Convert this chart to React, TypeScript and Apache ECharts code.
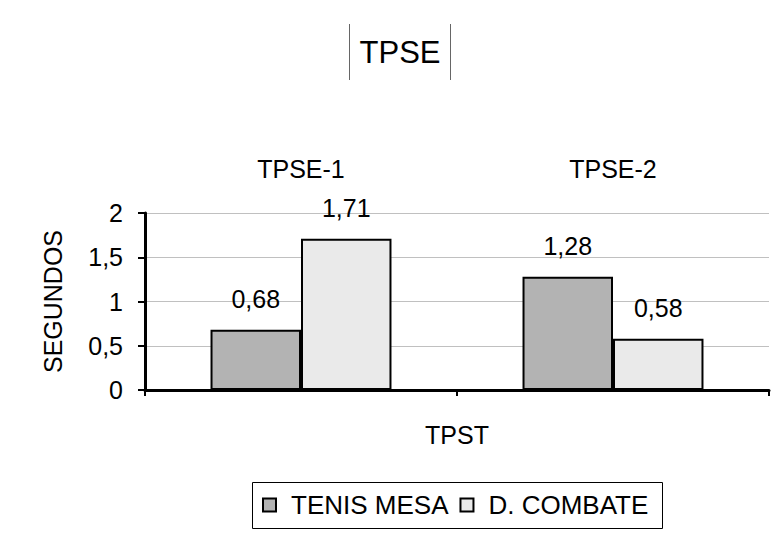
import React, { useEffect, useRef } from "react";
import * as echarts from "echarts";

const categories = ["TPSE-1", "TPSE-2"];
const tenisMesa = [0.68, 1.28];
const dCombate = [1.71, 0.58];
const seriesNames = ["TENIS MESA", "D. COMBATE"];

const FONT = "'Liberation Sans', Arial, sans-serif";
const fmt = (v: number) => String(v).replace(".", ",");

export default function App() {
  const ref = useRef<HTMLDivElement>(null);

  useEffect(() => {
    if (!ref.current) return;
    const chart = echarts.init(ref.current, null, { renderer: "svg" });

    const barLabel = {
      show: true,
      position: "top" as const,
      distance: 18,
      fontSize: 25,
      fontFamily: FONT,
      color: "#000",
      formatter: (p: any) => fmt(p.value),
    };

    chart.setOption({
      animation: false,
      backgroundColor: "#fff",
      textStyle: { fontFamily: FONT },
      graphic: [
        {
          type: "line",
          shape: { x1: 349.5, y1: 24, x2: 349.5, y2: 80 },
          style: { stroke: "#666", lineWidth: 1 },
        },
        {
          type: "line",
          shape: { x1: 450.5, y1: 24, x2: 450.5, y2: 80 },
          style: { stroke: "#666", lineWidth: 1 },
        },
        {
          type: "text",
          x: 400,
          y: 52,
          style: {
            text: "TPSE",
            fontSize: 31,
            fontFamily: FONT,
            fill: "#000",
            align: "center",
            verticalAlign: "middle",
          },
        },
        {
          type: "rect",
          shape: { x: 252.5, y: 482.5, width: 410, height: 46 },
          style: { fill: "none", stroke: "#000", lineWidth: 1 },
          z: 10,
        },
      ],
      legend: {
        data: seriesNames,
        left: 262,
        top: 492,
        padding: 0,
        icon: "rect",
        itemWidth: 13,
        itemHeight: 13,
        itemGap: 11,
        textStyle: {
          fontSize: 26,
          fontFamily: FONT,
          color: "#000",
          padding: [0, 0, 0, 10],
        },
      },
      grid: { left: 145, right: 7, top: 213, bottom: 144, containLabel: false },
      xAxis: [
        {
          type: "category",
          data: categories,
          position: "bottom",
          axisLine: { lineStyle: { color: "#000", width: 3 } },
          axisTick: { show: true, length: 6, lineStyle: { color: "#000", width: 2 } },
          axisLabel: { show: false },
          name: "TPST",
          nameLocation: "middle",
          nameGap: 32,
          nameTextStyle: { fontSize: 25, fontFamily: FONT, color: "#000" },
        },
        {
          type: "category",
          data: categories,
          position: "top",
          axisLine: { show: false },
          axisTick: { show: false },
          axisLabel: { fontSize: 25, fontFamily: FONT, color: "#000", margin: 32 },
        },
      ],
      yAxis: {
        type: "value",
        min: 0,
        max: 2,
        interval: 0.5,
        axisLine: { show: true, lineStyle: { color: "#000", width: 3 } },
        axisTick: { show: true, length: 7, lineStyle: { color: "#000", width: 2 } },
        axisLabel: {
          fontSize: 25,
          fontFamily: FONT,
          color: "#000",
          margin: 22,
          formatter: (v: number) => fmt(v),
        },
        splitLine: { lineStyle: { color: "#c0c0c0", width: 1 } },
        name: "SEGUNDOS",
        nameLocation: "middle",
        nameGap: 80,
        nameTextStyle: { fontSize: 25, fontFamily: FONT, color: "#000" },
      },
      series: [
        {
          name: seriesNames[0],
          type: "bar",
          data: tenisMesa,
          barGap: "0%",
          barCategoryGap: "42%",
          itemStyle: { color: "#b3b3b3", borderColor: "#000", borderWidth: 2 },
          label: barLabel,
        },
        {
          name: seriesNames[1],
          type: "bar",
          data: dCombate,
          barGap: "0%",
          barCategoryGap: "42%",
          itemStyle: { color: "#eaeaea", borderColor: "#000", borderWidth: 2 },
          label: barLabel,
        },
      ],
    });

    return () => chart.dispose();
  }, []);

  return <div ref={ref} style={{ width: 776, height: 534, position: "absolute", left: 0, top: 0 }} />;
}
